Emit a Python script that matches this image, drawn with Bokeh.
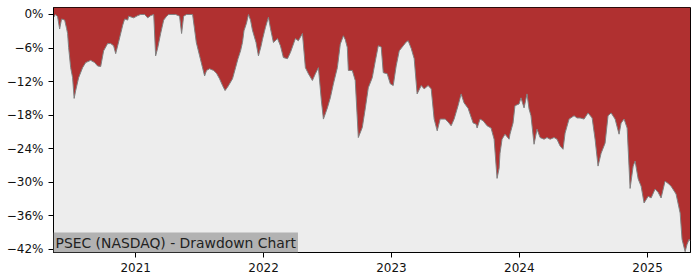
import numpy as np
import pandas as pd
from bokeh.plotting import figure
from bokeh.models import FixedTicker, DatetimeTickFormatter, Label, Range1d, ColumnDataSource
from bokeh.embed import file_html
from bokeh.resources import INLINE

# ---- data (decimal year, drawdown in %) ----
dec_year = [
    2020.360, 2020.375, 2020.391, 2020.407, 2020.422, 2020.446, 2020.461, 2020.469,
    2020.477, 2020.493, 2020.508, 2020.520, 2020.532, 2020.555, 2020.586, 2020.610,
    2020.649, 2020.680, 2020.703, 2020.727, 2020.750, 2020.781, 2020.805, 2020.828,
    2020.844, 2020.867, 2020.899, 2020.914, 2020.938, 2020.945, 2020.984, 2021.016,
    2021.039, 2021.070, 2021.094, 2021.117, 2021.141, 2021.156, 2021.172, 2021.195,
    2021.219, 2021.242, 2021.258, 2021.312, 2021.343, 2021.359, 2021.375, 2021.398,
    2021.445, 2021.474, 2021.500, 2021.539, 2021.554, 2021.578, 2021.609, 2021.632,
    2021.656, 2021.679, 2021.699, 2021.718, 2021.734, 2021.757, 2021.781, 2021.800,
    2021.820, 2021.835, 2021.847, 2021.867, 2021.882, 2021.898, 2021.913, 2021.941,
    2021.960, 2021.981, 2021.991, 2022.007, 2022.015, 2022.038, 2022.054, 2022.077,
    2022.109, 2022.132, 2022.155, 2022.187, 2022.210, 2022.249, 2022.272, 2022.304,
    2022.327, 2022.351, 2022.382, 2022.405, 2022.429, 2022.452, 2022.468, 2022.499,
    2022.522, 2022.546, 2022.577, 2022.600, 2022.624, 2022.639, 2022.655, 2022.663,
    2022.694, 2022.717, 2022.741, 2022.772, 2022.796, 2022.819, 2022.850, 2022.874,
    2022.897, 2022.920, 2022.936, 2022.967, 2022.991, 2023.014, 2023.037, 2023.061,
    2023.092, 2023.116, 2023.131, 2023.155, 2023.178, 2023.201, 2023.233, 2023.256,
    2023.287, 2023.311, 2023.334, 2023.358, 2023.381, 2023.420, 2023.443, 2023.467,
    2023.490, 2023.521, 2023.545, 2023.568, 2023.600, 2023.639, 2023.662, 2023.670,
    2023.693, 2023.717, 2023.748, 2023.779, 2023.803, 2023.826, 2023.842, 2023.849,
    2023.865, 2023.888, 2023.920, 2023.927, 2023.951, 2023.966, 2023.998, 2024.013,
    2024.037, 2024.060, 2024.076, 2024.091, 2024.115, 2024.138, 2024.162, 2024.193,
    2024.216, 2024.240, 2024.271, 2024.294, 2024.318, 2024.341, 2024.357, 2024.388,
    2024.427, 2024.450, 2024.474, 2024.505, 2024.536, 2024.568, 2024.591, 2024.614,
    2024.638, 2024.669, 2024.692, 2024.716, 2024.747, 2024.778, 2024.794, 2024.817,
    2024.841, 2024.864, 2024.888, 2024.903, 2024.927, 2024.950, 2024.973, 2025.005,
    2025.028, 2025.059, 2025.083, 2025.106, 2025.137, 2025.161, 2025.184, 2025.223,
    2025.255, 2025.270, 2025.294, 2025.309, 2025.325, 2025.333,
]
drawdown_pct = [
    -0.5, 0.0, -0.4, -2.6, -0.8, -1.0, -2.5, -3.4,
    -5.9, -9.5, -11.3, -15.0, -13.6, -11.3, -9.5, -8.6,
    -8.2, -8.6, -9.2, -9.3, -6.5, -5.2, -5.2, -5.6,
    -7.0, -4.9, -1.9, -0.8, -1.0, -0.3, -0.6, -0.2,
    0.0, 0.0, -0.6, -0.2, 0.0, -7.4, -6.0, -3.4,
    -1.0, -0.3, 0.0, 0.0, -0.3, -3.4, -0.3, 0.0,
    0.0, -5.0, -7.4, -11.0, -10.0, -9.7, -10.0, -10.5,
    -11.5, -12.7, -13.6, -13.0, -12.4, -11.5, -9.5, -7.9,
    -6.5, -5.0, -2.9, -1.5, 0.0, -1.0, -2.8, -5.0,
    -7.4, -5.6, -4.5, -3.0, -2.3, -0.5, -2.5, -5.0,
    -4.3, -5.6, -7.7, -7.9, -6.8, -4.3, -4.7, -3.4,
    -9.5, -10.6, -11.8, -10.6, -9.5, -15.4, -18.7, -16.7,
    -14.9, -12.4, -9.5, -5.3, -3.8, -4.5, -5.9, -10.0,
    -10.0, -11.8, -22.0, -20.2, -16.7, -13.1, -11.3, -8.3,
    -5.6, -5.8, -10.4, -10.6, -12.4, -12.7, -9.2, -6.5,
    -5.6, -4.9, -4.7, -6.1, -7.9, -14.2, -12.7, -13.3,
    -12.7, -13.3, -18.7, -20.8, -18.7, -18.7, -19.2, -19.9,
    -18.7, -16.3, -14.2, -15.8, -16.8, -19.4, -19.6, -20.3,
    -18.7, -19.0, -19.9, -20.3, -22.3, -29.3, -27.5, -24.8,
    -22.3, -21.4, -22.3, -21.4, -19.4, -16.3, -16.0, -14.9,
    -16.7, -14.2, -16.9, -18.1, -23.2, -20.5, -22.0, -22.3,
    -22.0, -22.3, -22.0, -22.3, -23.5, -24.1, -21.2, -18.7,
    -18.1, -18.5, -18.5, -18.7, -17.6, -18.5, -22.3, -27.1,
    -24.8, -23.0, -18.1, -17.6, -18.7, -21.4, -19.4, -18.7,
    -20.3, -31.1, -27.1, -26.2, -29.4, -30.7, -33.7, -32.5,
    -32.8, -31.2, -31.8, -32.8, -29.8, -30.2, -30.7, -32.1,
    -35.5, -40.2, -42.4, -41.1, -40.2, -40.5,
]
y_ticks = [0, -6, -12, -18, -24, -30, -36, -42]
y_tick_labels = ["0%", "\u22126%", "\u221212%", "\u221218%", "\u221224%", "\u221230%", "\u221236%", "\u221242%"]
x_tick_years = [2021, 2022, 2023, 2024, 2025]
chart_label = "PSEC (NASDAQ) - Drawdown Chart"
x_limits = (2020.359, 2025.336)
y_limits = (-42.55, 1.25)


def to_dt(y):
    yr = int(np.floor(y))
    start = pd.Timestamp(yr, 1, 1)
    end = pd.Timestamp(yr + 1, 1, 1)
    return start + (end - start) * (y - yr)


dates = [to_dt(v) for v in dec_year]
src = ColumnDataSource(dict(x=dates, dd=drawdown_pct))

FONT = "DejaVu Sans"

p = figure(width=700, height=280, x_axis_type="datetime", output_backend="svg",
           toolbar_location=None,
           x_range=Range1d(to_dt(x_limits[0]), to_dt(x_limits[1])),
           y_range=Range1d(*y_limits),
           min_border_left=53, min_border_right=10, min_border_top=7, min_border_bottom=28)
p.background_fill_color = "#ededed"
p.border_fill_color = "white"
p.outline_line_color = "black"
p.outline_line_width = 1
p.grid.visible = False

p.varea(x="x", y1="dd", y2=y_limits[1], source=src, fill_color="#b03030")
p.line(x="x", y="dd", source=src, line_color="#808080", line_width=1)

tick_ms = [pd.Timestamp(y, 1, 1).value // 10**6 for y in x_tick_years]
p.xaxis.ticker = FixedTicker(ticks=tick_ms)
p.xaxis.formatter = DatetimeTickFormatter(years="%Y", months="%Y", days="%Y", hours="%Y",
                                          minutes="%Y", seconds="%Y", milliseconds="%Y",
                                          microseconds="%Y", hourmin="%Y", minsec="%Y")
p.yaxis.ticker = FixedTicker(ticks=y_ticks)
p.yaxis.major_label_overrides = {t: l for t, l in zip(y_ticks, y_tick_labels)}

for ax in (p.xaxis[0], p.yaxis[0]):
    ax.major_label_text_font = FONT
    ax.major_label_text_font_size = "12px"
    ax.major_label_text_color = "#111111"
    ax.major_tick_out = 5
    ax.major_tick_in = 0
    ax.minor_tick_out = 0
    ax.minor_tick_in = 0
    ax.major_label_standoff = 5
    ax.axis_line_color = "black"
    ax.major_tick_line_color = "black"

lab = Label(x=to_dt(x_limits[0]), y=y_limits[0], x_units="data", y_units="data",
            text=chart_label, text_font=FONT, text_font_size="13.9px", text_color="#222222",
            background_fill_color="#b2b2b2", padding=2)
p.add_layout(lab)

open("out.html", "w").write(file_html(p, INLINE))
